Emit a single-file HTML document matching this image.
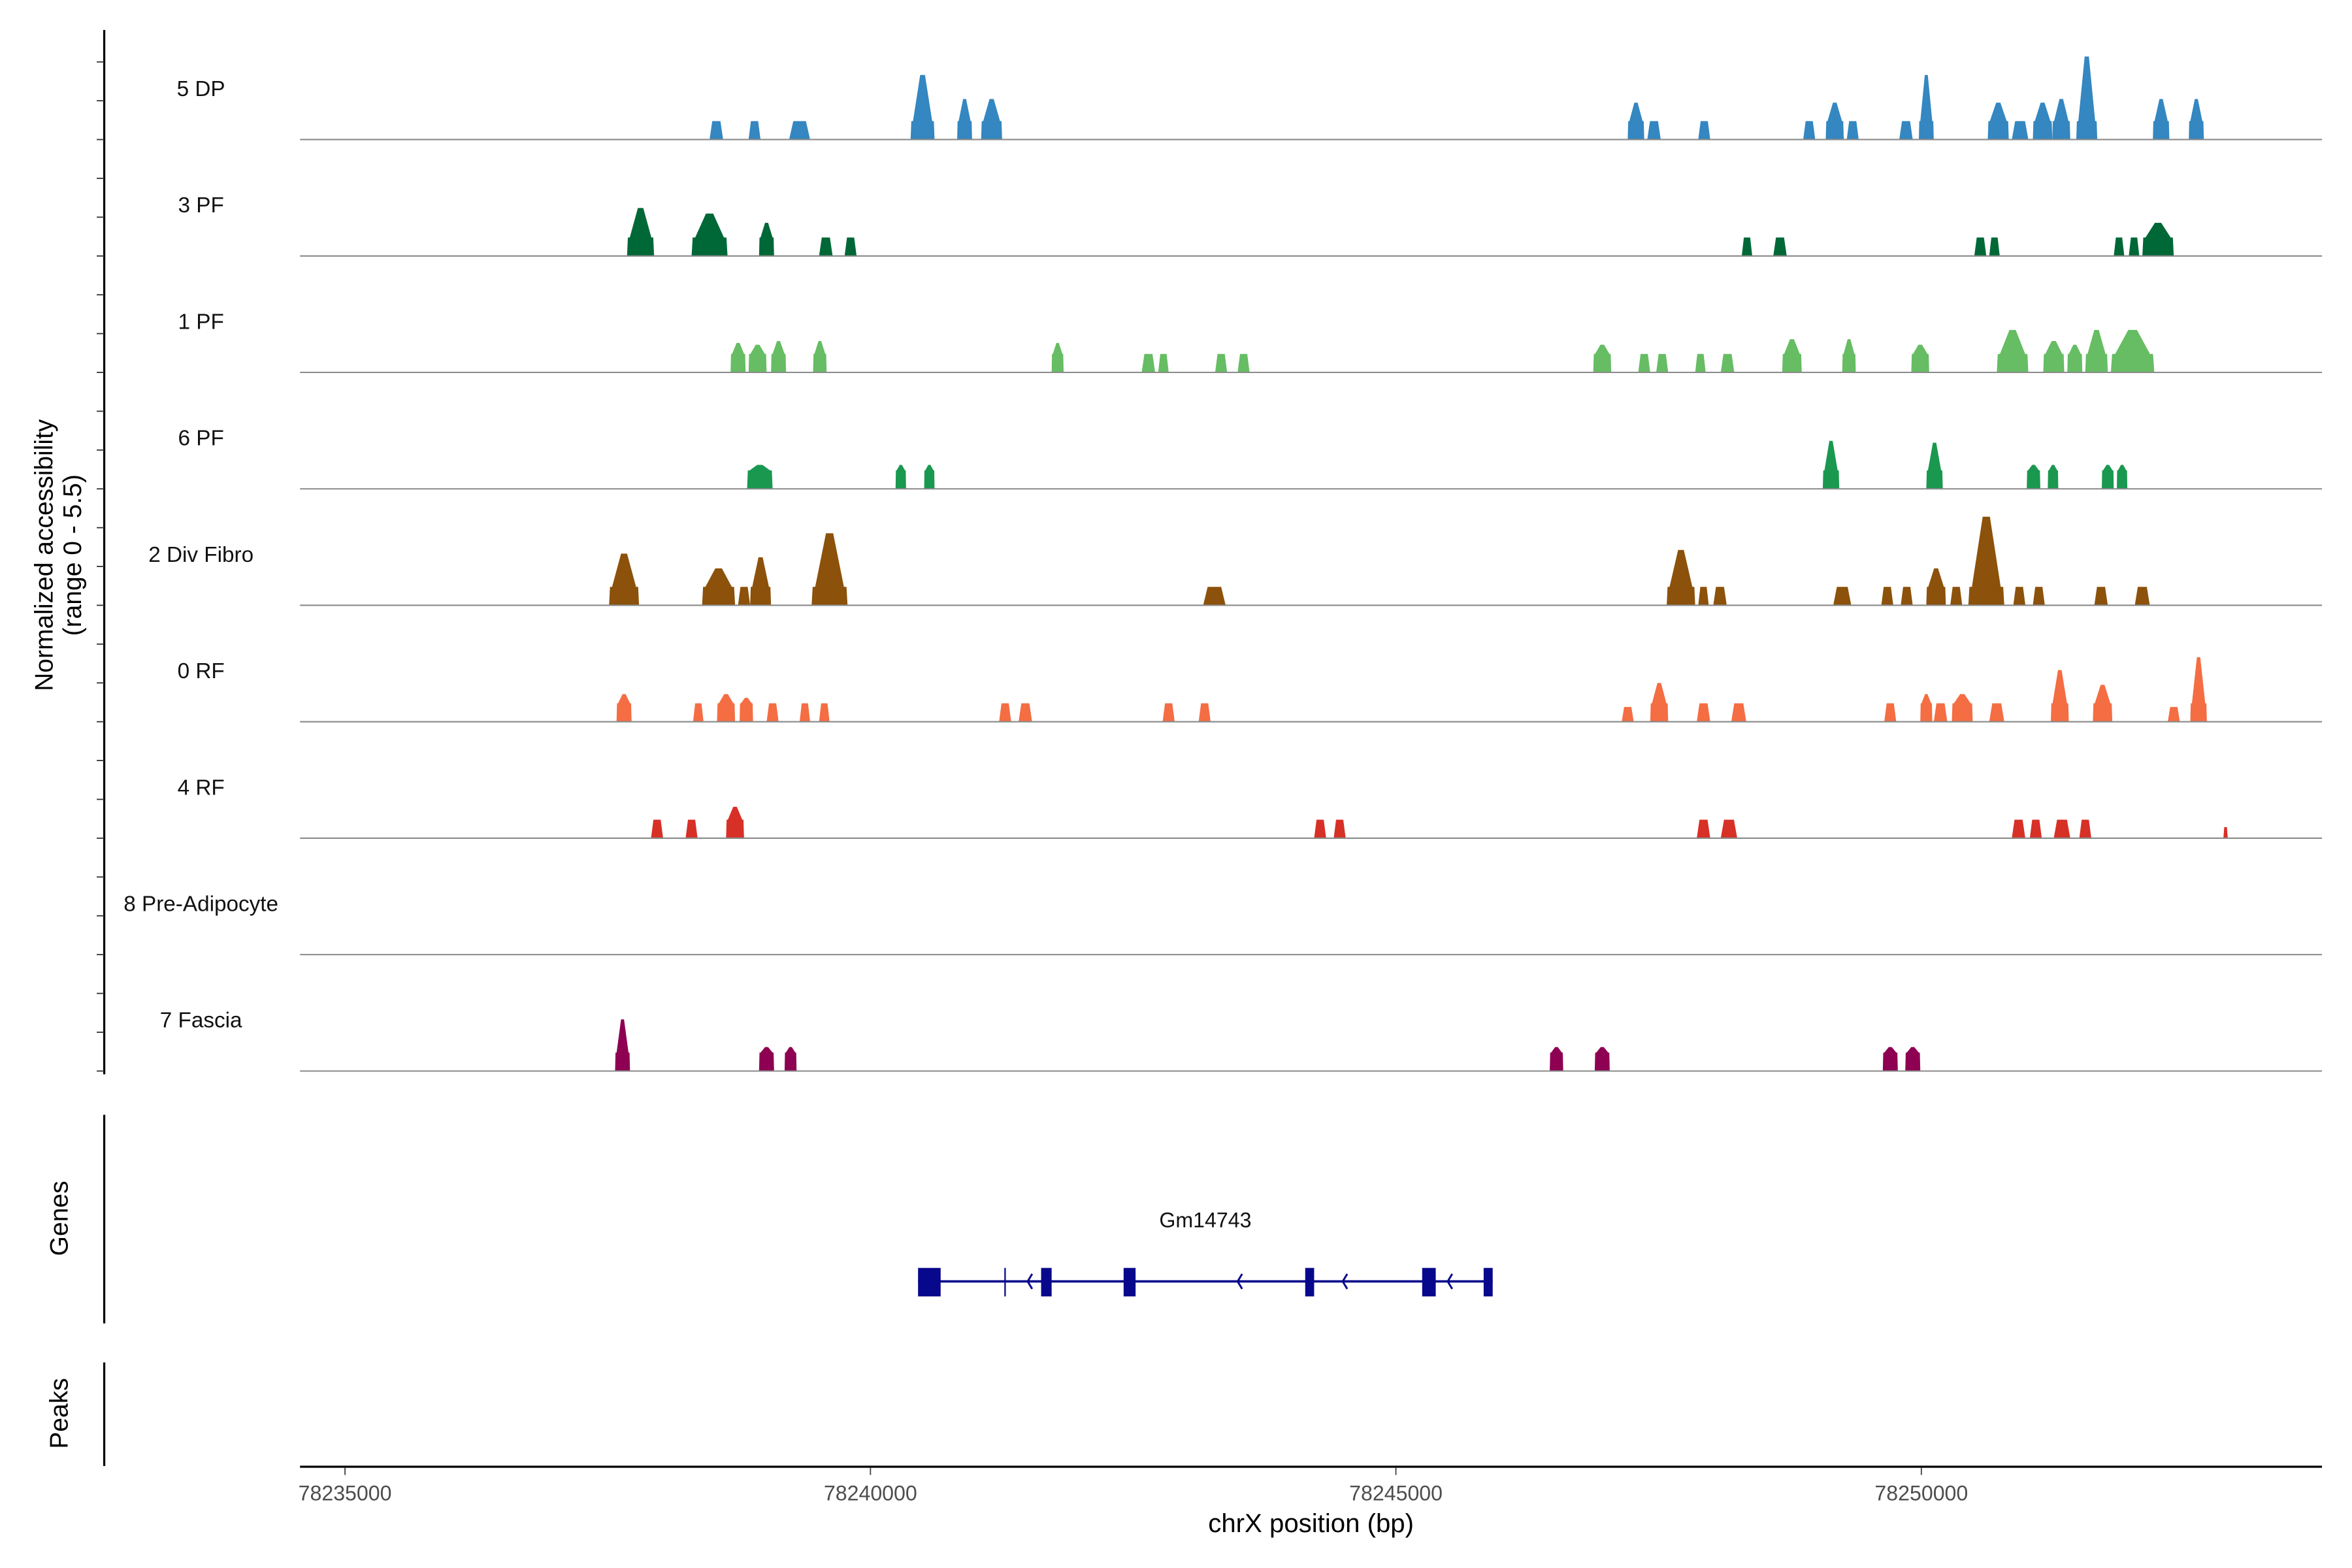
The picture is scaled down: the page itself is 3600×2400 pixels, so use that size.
<!DOCTYPE html>
<html><head><meta charset="utf-8"><style>
html,body{margin:0;padding:0;background:#fff}
svg{display:block}
text{font-family:"Liberation Sans",Arial,sans-serif}
</style></head><body>
<svg id="chart" width="3600" height="2400" viewBox="0 0 1568 1045" preserveAspectRatio="none" xmlns="http://www.w3.org/2000/svg">
<rect x="0" y="0" width="1568" height="1045" fill="#fff"/>
<g id="tracks"></g>
<g id="genes"></g>
<g id="axes"></g>
</svg>
<script>
// ---- data ----
const trackNames = ["5 DP","3 PF","1 PF","6 PF","2 Div Fibro","0 RF","4 RF","8 Pre-Adipocyte","7 Fascia"];
const trackColors = ["#3487c0","#006837","#66bd63","#1a9850","#8c510a","#f46d43","#d73027","#999999","#8e0152"];
const peaks5DP = [[78238469,78238598,1],[78238840,78238954,1],[78239226,78239426,1],[78240382,78240610,3.5],[78240825,78240967,2.2],[78241053,78241253,2.2],[78247206,78247363,2],[78247392,78247520,1],[78247877,78247991,1],[78248876,78248990,1],[78249090,78249262,2],[78249290,78249404,1],[78249790,78249918,1],[78249976,78250118,3.5],[78250632,78250832,2],[78250861,78251018,1],[78251061,78251246,2],[78251246,78251417,2.2],[78251474,78251674,4.5],[78252203,78252360,2.2],[78252545,78252688,2.2]];
const peaks3PF = [[78237684,78237941,2.6],[78238298,78238640,2.3],[78238940,78239083,1.8],[78239511,78239640,1],[78239754,78239868,1],[78248291,78248391,1],[78248591,78248719,1],[78250504,78250618,1],[78250646,78250746,1],[78251831,78251931,1],[78251974,78252074,1],[78252103,78252402,1.8]];
const peaks1PF = [[78238669,78238812,1.6],[78238840,78239012,1.5],[78239054,78239197,1.7],[78239454,78239583,1.7],[78241724,78241838,1.6],[78242581,78242709,1],[78242738,78242838,1],[78243280,78243394,1],[78243494,78243608,1],[78246878,78247049,1.5],[78247306,78247420,1],[78247477,78247591,1],[78247848,78247948,1],[78248091,78248220,1],[78248676,78248862,1.8],[78249247,78249376,1.8],[78249904,78250075,1.5],[78250718,78251018,2.3],[78251160,78251360,1.7],[78251389,78251532,1.5],[78251560,78251774,2.3],[78251803,78252217,2.3]];
const peaks6PF = [[78238826,78239069,1.3],[78240239,78240339,1.3],[78240511,78240610,1.3],[78249062,78249219,2.6],[78250047,78250204,2.5],[78251003,78251132,1.3],[78251203,78251303,1.3],[78251717,78251831,1.3],[78251860,78251960,1.3]];
const peaksDivFibro = [[78237513,78237798,2.8],[78238398,78238712,2],[78238740,78238855,1],[78238855,78239054,2.6],[78239440,78239782,3.9],[78243166,78243380,1],[78247577,78247848,3],[78247877,78247977,1],[78248020,78248148,1],[78249162,78249333,1],[78249619,78249733,1],[78249804,78249918,1],[78250047,78250233,2],[78250275,78250389,1],[78250447,78250789,4.8],[78250875,78250990,1],[78251061,78251175,1],[78251646,78251774,1],[78252031,78252174,1]];
const peaks0RF = [[78237584,78237727,1.5],[78238312,78238412,1],[78238540,78238712,1.5],[78238755,78238883,1.3],[78239012,78239126,1],[78239326,78239426,1],[78239511,78239611,1],[78241224,78241339,1],[78241410,78241538,1],[78242780,78242895,1],[78243123,78243237,1],[78247149,78247263,0.8],[78247420,78247591,2.1],[78247863,78247991,1],[78248191,78248334,1],[78249647,78249761,1],[78249990,78250104,1.5],[78250118,78250247,1],[78250290,78250489,1.5],[78250646,78250789,1],[78251232,78251403,2.8],[78251632,78251817,2],[78252345,78252460,0.8],[78252559,78252717,3.5]];
const peaks4RF = [[78237912,78238027,1],[78238241,78238355,1],[78238626,78238797,1.7],[78244222,78244336,1],[78244408,78244522,1],[78247863,78247991,1],[78248091,78248248,1],[78250861,78250989,1],[78251032,78251146,1],[78251260,78251417,1],[78251503,78251617,1],[78252874,78252916,0.6]];
const peaksPreAdipocyte = [];
const peaksFascia = [[78237570,78237712,2.8],[78238940,78239083,1.3],[78239183,78239297,1.3],[78246464,78246592,1.3],[78246892,78247035,1.3],[78249633,78249776,1.3],[78249847,78249990,1.3]];
const trackPeaks = [peaks5DP,peaks3PF,peaks1PF,peaks6PF,peaksDivFibro,peaks0RF,peaks4RF,peaksPreAdipocyte,peaksFascia];
const xTicks = [78235000,78240000,78245000,78250000];
const geneName = "Gm14743";
const geneStart = 78240453, geneEnd = 78245921;
const geneExons = [[78240453,78240668],[78241624,78241724],[78242409,78242523],[78244137,78244222],[78245250,78245379],[78245835,78245921]];
const geneMarks = [78241281];
const geneArrows = [78241496,78243494,78244494,78245493];

// ---- scales ----
const NS="http://www.w3.org/2000/svg";
const X0=230, PX_PER_BP=350.3/5000, DOM0=78235000;
function xs(bp){return X0+(bp-DOM0)*PX_PER_BP;}
const baseY0=93, trackStep=77.6, levelPx=12.3;
function baseY(i){return baseY0+i*trackStep;}
function ys(i,h){return baseY(i)-h*levelPx;}
function mk(tag,attrs,parent){const e=document.createElementNS(NS,tag);for(const k in attrs)e.setAttribute(k,attrs[k]);parent.appendChild(e);return e;}

const gT=document.getElementById('tracks');
trackNames.forEach((name,i)=>{
  const g=mk('g',{},gT);
  
  
  const lab=mk('text',{x:134,y:baseY(i)-29,'font-size':14.5,'text-anchor':'middle',fill:'#111'},g);
  lab.textContent=name;
  
  
  trackPeaks[i].forEach(p=>{
    const s=xs(p[0]),e=xs(p[1]),h=p[2],w=e-s,c=(s+e)/2,b=baseY(i);
    const l1=Math.min(1,h);
    let pts;
    if(h>1.2){
      pts=[[s,b],[s+0.03*w,ys(i,l1)],[c-0.4*w,ys(i,l1)],[c-0.1*w,ys(i,h)],[c+0.1*w,ys(i,h)],[c+0.4*w,ys(i,l1)],[e-0.03*w,ys(i,l1)],[e,b]];
    } else {
      pts=[[s,b],[s+0.2*w,ys(i,h)],[e-0.2*w,ys(i,h)],[e,b]];
    }
    const poly=mk('polygon',{points:pts.map(q=>q[0].toFixed(2)+','+q[1].toFixed(2)).join(' '),fill:trackColors[i]},g);
    
    
  });
  const bl=mk('line',{x1:200,x2:1548,y1:baseY(i),y2:baseY(i),stroke:'#8a8a8a','stroke-width':0.9},g);
  
  
});

// genes
const gG=document.getElementById('genes');
const gc='#08088c', gy=854;
const gl=mk('text',{x:(xs(geneStart)+xs(geneEnd))/2,y:818,'font-size':14,'text-anchor':'middle',fill:'#111'},gG);
gl.textContent=geneName;


const gline=mk('line',{x1:xs(geneStart),x2:xs(geneEnd),y1:gy,y2:gy,stroke:gc,'stroke-width':1.6},gG);


geneExons.forEach(ex=>{
  const r=mk('rect',{x:xs(ex[0]),y:845,width:Math.max(1,xs(ex[1])-xs(ex[0])),height:19,fill:gc},gG);
  
  
});
geneMarks.forEach(m=>{
  const l=mk('line',{x1:xs(m),x2:xs(m),y1:845,y2:864,stroke:gc,'stroke-width':1},gG);
  
  
});
geneArrows.forEach(a=>{
  const x=xs(a);
  const p=mk('polyline',{points:(x+3)+','+(gy-5)+' '+x+','+gy+' '+(x+3)+','+(gy+5),fill:'none',stroke:gc,'stroke-width':1.3},gG);
  
  
});

// axes
const gA=document.getElementById('axes');
const ya=mk('line',{x1:69.5,x2:69.5,y1:20,y2:716,stroke:'#000','stroke-width':1.4},gA);


for(let k=0;k<=26;k++){
  const y=baseY(8)-k*trackStep/3;
  const t=mk('line',{x1:64.5,x2:69.5,y1:y,y2:y,stroke:'#333','stroke-width':0.8},gA);
  
  
}
const yt=mk('text',{transform:'translate(35,370) rotate(-90)','font-size':17,'text-anchor':'middle',fill:'#000'},gA);
yt.innerHTML='<tspan x="0" dy="0">Normalized accessibility</tspan><tspan x="0" dy="19">(range 0 - 5.5)</tspan>';


const ga=mk('line',{x1:69.5,x2:69.5,y1:743,y2:882,stroke:'#000','stroke-width':1.4},gA);


const gt=mk('text',{transform:'translate(45,812) rotate(-90)','font-size':17,'text-anchor':'middle',fill:'#000'},gA);
gt.textContent='Genes';


const pa=mk('line',{x1:69.5,x2:69.5,y1:908,y2:977,stroke:'#000','stroke-width':1.4},gA);


const pt=mk('text',{transform:'translate(45,942) rotate(-90)','font-size':17,'text-anchor':'middle',fill:'#000'},gA);
pt.textContent='Peaks';


const xa=mk('line',{x1:200,x2:1548,y1:977.5,y2:977.5,stroke:'#000','stroke-width':1.4},gA);


xTicks.forEach(v=>{
  const x=xs(v);
  const t=mk('line',{x1:x,x2:x,y1:978,y2:983,stroke:'#444','stroke-width':0.8},gA);
  
  
  const l=mk('text',{x:x,y:1000,'font-size':14,'text-anchor':'middle',fill:'#4d4d4d'},gA);
  l.textContent=String(v);
  
  
});
const xt=mk('text',{x:874,y:1021,'font-size':17.5,'text-anchor':'middle',fill:'#000'},gA);
xt.textContent='chrX position (bp)';


</script>
</body></html>
